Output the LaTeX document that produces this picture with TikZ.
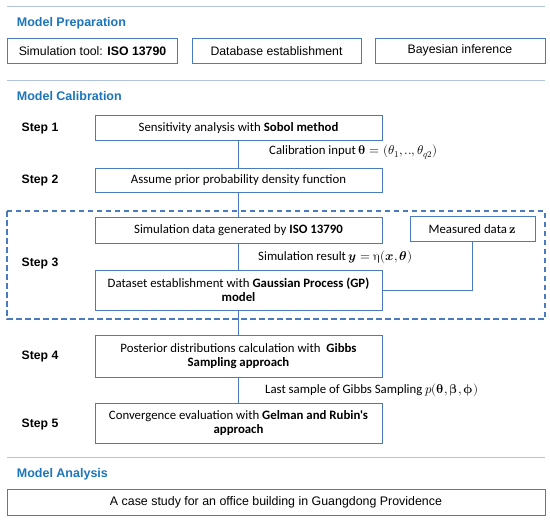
\documentclass[tikz,border=0pt]{standalone}
\usepackage{unicode-math}
\setmainfont{Liberation Sans}
\newfontfamily\calfont{Carlito}
\definecolor{boxc}{HTML}{4A7BC0}
\definecolor{titc}{HTML}{1B75BC}
\definecolor{sepc}{HTML}{AFC4DC}
\begin{document}
\begin{tikzpicture}[x=1pt,y=-1pt,
  prep/.style={draw=boxc,line width=1pt,minimum height=25pt,inner sep=0pt,font=\fontsize{12.3}{14}\selectfont},
  stepbox/.style={draw=boxc,line width=1pt,minimum width=287pt,inner sep=0pt,align=center,font=\calfont\fontsize{12.8}{14.5}\selectfont},
  steplab/.style={font=\bfseries\fontsize{12.2}{14}\selectfont,inner sep=0pt},
  tit/.style={font=\bfseries\fontsize{12.5}{14}\selectfont,text=titc,anchor=west,inner sep=0pt},
  conn/.style={draw=boxc,line width=1pt},
  clab/.style={font=\calfont\fontsize{12.8}{14}\selectfont,anchor=west,inner sep=0pt},
  sep/.style={draw=sepc,line width=1pt},
  dashbox/.style={draw=boxc,line width=1.1pt,dash pattern=on 5.5pt off 3.5pt}]
\useasboundingbox (0,0) rectangle (550,520);
% separators
\draw[sep] (7,6.7) -- (545,6.7);
\draw[sep] (7,80) -- (545,80);
\draw[sep] (7,457.5) -- (545,457.5);
% titles
\node[tit] (t1) at (16.7,23.3) {Model Preparation};
\node[tit] (t2) at (16.7,96) {Model Calibration};
\node[tit] (t3) at (16.7,474) {Model Analysis};
% preparation boxes
\node[prep,minimum width=170.5pt] (p1) at (92.5,50.8) {Simulation tool: \textbf{ISO 13790}};
\node[prep,minimum width=169pt] (p2) at (276.5,50.8) {Database establishment};
\node[prep,minimum width=170pt] (p3) at (460,50.8) {Bayesian inference};
% dashed region
\draw[dashbox] (7,211) rectangle (545,319);
% step boxes
\node[stepbox,minimum height=24.5pt] (s1) at (238.5,128) {Sensitivity analysis with \textbf{Sobol method}};
\node[stepbox,minimum height=24pt] (s2) at (238.5,180) {Assume prior probability density function};
\node[stepbox,minimum height=26pt] (s3a) at (238.5,230) {Simulation data generated by \textbf{ISO 13790}};
\node[stepbox,minimum height=40pt] (s3b) at (238.5,290) {Dataset establishment with \textbf{Gaussian Process (GP)}\\\textbf{model}};
\node[draw=boxc,line width=1pt,minimum width=125pt,minimum height=25pt,inner sep=0pt,font=\calfont\fontsize{12.8}{14}\selectfont] (m) at (472.5,229.2) {Measured data $\symbfup{z}$};
\node[stepbox,minimum height=42pt] (s4) at (238.5,356) {Posterior distributions calculation with \ \textbf{Gibbs}\\\textbf{Sampling approach}};
\node[stepbox,minimum height=40pt] (s5) at (238.5,423) {Convergence evaluation with \textbf{Gelman and Rubin's}\\\textbf{approach}};
\node[draw=boxc,line width=1pt,minimum width=538pt,minimum height=26pt,inner sep=0pt,font=\fontsize{12.4}{14}\selectfont] (f) at (276,502) {A case study for an office building in Guangdong Providence};
% step labels
\node[steplab] (l1) at (40,129) {Step 1};
\node[steplab] (l2) at (40,181) {Step 2};
\node[steplab] (l3) at (40,264) {Step 3};
\node[steplab] (l4) at (40,357) {Step 4};
\node[steplab] (l5) at (40,425) {Step 5};
% connectors
\draw[conn] (s1) -- (s2);
\draw[conn] (s2) -- (s3a);
\draw[conn] (s3a) -- (s3b);
\draw[conn] (s3b) -- (s4);
\draw[conn] (s4) -- (s5);
\draw[conn] (m) |- (s3b);
% connector labels
\node[clab] (c1) at (269,152) {Calibration input $\symbfup{\theta}=(\theta_1,..,\theta_{q2})$};
\node[clab] (c2) at (258,257) {Simulation result $\symbfit{y}=\upeta(\symbfit{x},\symbfit{\theta})$};
\node[clab] (c3) at (265,390) {Last sample of Gibbs Sampling $p(\symbfup{\theta},\symbfup{\beta},\symbfup{\phi})$};
\end{tikzpicture}
\end{document}
